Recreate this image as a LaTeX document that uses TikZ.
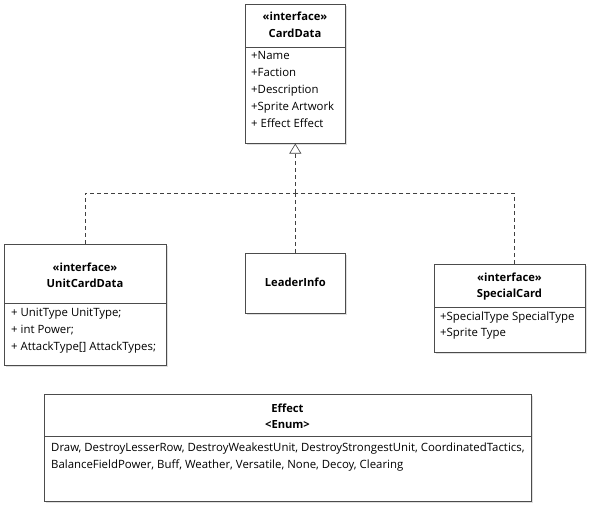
\documentclass[tikz,border=0pt]{standalone}
\usepackage{fontspec}
\setmainfont{Open Sans}
\usetikzlibrary{arrows.meta,shadows}

\begin{document}
\begin{tikzpicture}[x=1pt,y=-1pt,
    box/.style={draw=black!70,fill=white,line width=0.6pt,anchor=north west,inner sep=0pt,
      drop shadow={opacity=0.25,shadow xshift=2pt,shadow yshift=-2pt}},
    head/.style={font=\fontsize{11.2}{12}\selectfont\bfseries,inner sep=0pt,text height=8pt,text depth=2.5pt},
    attr/.style={font=\fontsize{11.4}{12}\selectfont,anchor=west,inner sep=0pt,text height=8pt,text depth=2.5pt},
    dep/.style={draw=black!75,line width=0.6pt,dash pattern=on 4pt off 3pt}]
  \useasboundingbox (0,0) rectangle (589,505);
  % CardData
  \node[box,minimum width=100pt,minimum height=139pt](card)at(245,4){};
  \draw[black!70,line width=0.6pt] (card.west |- 0,47) -- (card.east |- 0,47);
  \node[head] at (295,18) {«interface»};
  \node[head] at (295,35) {CardData};
  \node[attr] at (251,57) {+Name};
  \node[attr] at (251,74) {+Faction};
  \node[attr] at (251,91) {+Description};
  \node[attr] at (251,108) {+Sprite Artwork};
  \node[attr] at (251,125) {+ Effect Effect};
  % UnitCardData
  \node[box,minimum width=162pt,minimum height=121pt](unit)at(4,244){};
  \draw[black!70,line width=0.6pt] (unit.west |- 0,303) -- (unit.east |- 0,303);
  \node[head] at (85,269) {«interface»};
  \node[head] at (85,285) {UnitCardData};
  \node[attr] at (11,314) {+ UnitType UnitType;};
  \node[attr] at (11,331) {+ int Power;};
  \node[attr] at (11,348) {+ AttackType[] AttackTypes;};
  % LeaderInfo
  \node[box,minimum width=100pt,minimum height=60pt](leader)at(245,253){};
  \node[head] at (leader.center) {LeaderInfo};
  % SpecialCard
  \node[box,minimum width=151pt,minimum height=88pt](special)at(434,264){};
  \draw[black!70,line width=0.6pt] (special.west |- 0,307) -- (special.east |- 0,307);
  \node[head] at (509.5,279) {«interface»};
  \node[head] at (509.5,295) {SpecialCard};
  \node[attr] at (440,318) {+SpecialType SpecialType};
  \node[attr] at (440,334) {+Sprite Type};
  % Effect
  \node[box,minimum width=487pt,minimum height=107pt](effect)at(44,394){};
  \draw[black!70,line width=0.6pt] (effect.west |- 0,436) -- (effect.east |- 0,436);
  \node[head] at (287.5,410) {Effect};
  \node[head] at (287.5,426) {<Enum>};
  \node[attr] at (51,449) {Draw, DestroyLesserRow, DestroyWeakestUnit, DestroyStrongestUnit, CoordinatedTactics,};
  \node[attr] at (51,466) {BalanceFieldPower, Buff, Weather, Versatile, None, Decoy, Clearing};
  % realization
  \coordinate (bus) at (card.south |- 0,193);
  \draw[dep,-{Triangle[open,length=10pt,width=12pt]}] (bus) -- (card.south);
  \draw[dep] (unit.north) |- (bus);
  \draw[dep] ([xshift=4.5pt]special.north) |- (bus);
  \draw[dep] (bus) -- (bus |- leader.north);
\end{tikzpicture}
\end{document}
